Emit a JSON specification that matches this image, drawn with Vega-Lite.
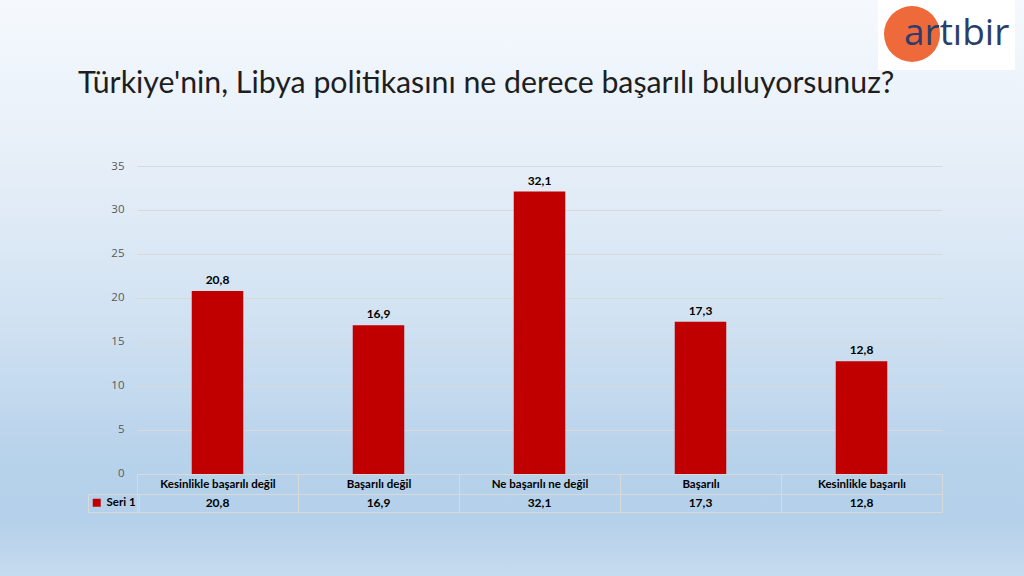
{
  "$schema": "https://vega.github.io/schema/vega-lite/v6.json",
  "width": 1024,
  "height": 576,
  "autosize": "none",
  "padding": 0,
  "background": "#D6E5F3",
  "view": {
    "stroke": null,
    "fill": {
      "gradient": "linear", "x1": 0, "y1": 0, "x2": 0, "y2": 1,
      "stops": [
        {"offset": 0, "color": "#F5F9FD"},
        {"offset": 0.3, "color": "#E5EEF8"},
        {"offset": 0.55, "color": "#D1E2F2"},
        {"offset": 0.8, "color": "#B7D2EB"},
        {"offset": 0.9, "color": "#B4D0EA"},
        {"offset": 1, "color": "#C6DBEF"}
      ]
    }
  },
  "config": {
    "locale": {"number": {"decimal": ",", "thousands": ".", "grouping": [3], "currency": ["", " TL"]}},
    "font": "Liberation Sans Narrow, Lato, sans-serif"
  },
  "title": {
    "text": "Türkiye'nin, Libya politikasını ne derece başarılı buluyorsunuz?",
    "anchor": "start",
    "frame": "group",
    "dx": 78,
    "offset": -123,
    "baseline": "alphabetic",
    "font": "Lato",
    "fontSize": 30.3,
    "fontWeight": "normal",
    "color": "#1E1E1E"
  },
  "data": {
    "values": [
      {"kategori": "Kesinlikle başarılı değil", "oran": 20.8},
      {"kategori": "Başarılı değil", "oran": 16.9},
      {"kategori": "Ne başarılı ne değil", "oran": 32.1},
      {"kategori": "Başarılı", "oran": 17.3},
      {"kategori": "Kesinlikle başarılı", "oran": 12.8}
    ]
  },
  "layer": [
    {
      "mark": {"type": "bar", "color": "#C00000", "width": {"band": 0.32}},
      "encoding": {
        "x": {
          "field": "kategori", "type": "nominal", "sort": null,
          "scale": {"range": [137, 942], "paddingInner": 0, "paddingOuter": 0},
          "axis": {
            "title": null, "orient": "bottom", "offset": -102,
            "tickBand": "extent", "tickSize": 38, "tickColor": "#D9D9D9",
            "domainColor": "#D9D9D9", "labelPadding": -34, "labelAngle": 0,
            "labelFontWeight": "bold", "labelFontSize": 11.5, "labelColor": "#000000",
            "labelLimit": 160, "grid": false
          }
        },
        "y": {
          "field": "oran", "type": "quantitative",
          "scale": {"domain": [-4.32, 35], "range": [512, 166], "nice": false, "zero": false},
          "axis": {
            "title": null, "offset": -137,
            "values": [-4.32, -2.27, 0, 5, 10, 15, 20, 25, 30, 35],
            "labelExpr": "datum.value < 0 ? '' : datum.label",
            "domain": false, "ticks": false, "labelPadding": 13,
            "grid": true, "gridColor": "#D9D9D9",
            "labelColor": "#595959", "labelFontSize": 11.5, "labelFont": "Open Sans"
          }
        },
        "y2": {"datum": 0},
        "color": {
          "datum": "Seri 1",
          "scale": {"range": ["#C00000"]},
          "legend": {
            "orient": "none", "legendX": 88, "legendY": 494, "title": null,
            "symbolType": "square", "symbolSize": 64,
            "labelFontWeight": "bold", "labelFontSize": 11.5, "labelColor": "#000000",
            "padding": 3, "strokeColor": "#D9D9D9", "labelOffset": 4
          }
        }
      }
    },
    {
      "mark": {"type": "text", "dy": -7, "baseline": "alphabetic", "fontWeight": "bold", "fontSize": 12, "color": "#000000"},
      "encoding": {
        "x": {"field": "kategori", "type": "nominal", "sort": null},
        "y": {"field": "oran", "type": "quantitative"},
        "text": {"field": "oran", "type": "quantitative", "format": ".1f"}
      }
    },
    {
      "mark": {"type": "text", "baseline": "middle", "fontWeight": "bold", "fontSize": 12, "color": "#000000"},
      "encoding": {
        "x": {"field": "kategori", "type": "nominal", "sort": null},
        "y": {"datum": -3.3, "type": "quantitative"},
        "text": {"field": "oran", "type": "quantitative", "format": ".1f"}
      }
    },
    {
      "data": {"values": [{"logo": "artıbir"}]},
      "mark": {"type": "point", "opacity": 0, "filled": true, "color": "#EE6A3A"},
      "encoding": {
        "shape": {
          "field": "logo", "type": "nominal",
          "scale": {"range": ["circle"]},
          "legend": {
            "orient": "none", "legendX": 878, "legendY": 0, "title": null,
            "symbolFillColor": "#EE6A3A", "symbolStrokeColor": "#EE6A3A", "symbolOpacity": 1,
            "symbolSize": 3136, "labelFontSize": 37, "labelColor": "#2B3D6B",
            "labelFont": "Open Sans", "labelOffset": -37, "fillColor": "#FFFFFF", "padding": 5
          }
        }
      }
    }
  ]
}
